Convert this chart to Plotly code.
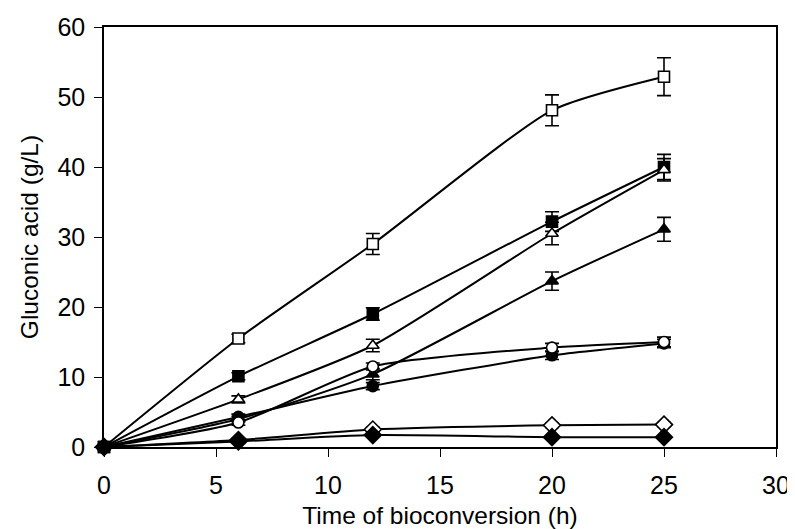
import plotly.graph_objects as go

time_h = [0, 6, 12, 20, 25]

open_square = [0, 15.5, 29.0, 48.1, 52.9]
open_square_err = [0.3, 0.6, 1.5, 2.2, 2.7]

filled_square = [0, 10.1, 19.0, 32.2, 40.0]
filled_square_err = [0.3, 0.5, 0.9, 1.4, 1.8]

open_triangle = [0, 6.8, 14.5, 30.5, 39.6]
open_triangle_err = [0.3, 0.5, 0.9, 1.6, 1.6]

filled_triangle = [0, 4.0, 10.4, 23.7, 31.1]
filled_triangle_err = [0.3, 0.4, 0.8, 1.3, 1.7]

open_circle = [0, 3.5, 11.5, 14.2, 15.0]
open_circle_err = [0.3, 0.4, 0.5, 0.6, 0.7]

filled_circle = [0, 4.3, 8.7, 13.1, 14.8]
filled_circle_err = [0.3, 0.4, 0.5, 0.6, 0.6]

open_diamond = [0, 1.0, 2.5, 3.1, 3.2]
open_diamond_err = [0.2, 0.2, 0.3, 0.3, 0.3]

filled_diamond = [0, 0.8, 1.7, 1.4, 1.4]
filled_diamond_err = [0.2, 0.2, 0.2, 0.2, 0.2]

series = [
    (open_square, open_square_err, "square-open"),
    (filled_square, filled_square_err, "square"),
    (open_triangle, open_triangle_err, "triangle-up-open"),
    (filled_triangle, filled_triangle_err, "triangle-up"),
    (filled_circle, filled_circle_err, "circle"),
    (open_circle, open_circle_err, "circle-open"),
    (open_diamond, open_diamond_err, "diamond-open"),
    (filled_diamond, filled_diamond_err, "diamond"),
]

fig = go.Figure()
for vals, errs, sym in series:
    filled = not sym.endswith("-open")
    base = sym.replace("-open", "")
    size = 11 if base != "diamond" else 13
    fig.add_trace(go.Scatter(
        x=time_h, y=vals,
        mode="lines+markers",
        line=dict(color="black", width=2, shape="spline", smoothing=0.6),
        marker=dict(symbol=base, size=size,
                    color="black" if filled else "white",
                    line=dict(color="black", width=1.6)),
        error_y=dict(type="data", array=errs, visible=True,
                     color="black", thickness=1.6, width=7),
        showlegend=False,
        cliponaxis=False,
    ))

font = "Liberation Sans, Arial, sans-serif"
# page body has an 8px default margin; figure sized so the plot lands where the reference's does
fig.update_layout(
    width=787, height=521,
    margin=dict(l=96, r=19, t=19, b=82),
    paper_bgcolor="white", plot_bgcolor="white",
    font=dict(family=font, color="black"),
    xaxis=dict(range=[0, 30], tickvals=[0, 5, 10, 15, 20, 25, 30],
               showgrid=False, zeroline=False, showline=True, linecolor="black",
               linewidth=1.5, mirror=True, ticks="outside", ticklen=8,
               tickcolor="black", tickfont=dict(size=25), automargin=False,
               ticklabelstandoff=7, ticklabeloverflow="allow",
               title=dict(text="Time of bioconversion (h)", font=dict(size=24.5), standoff=17)),
    yaxis=dict(range=[0, 60], tickvals=[0, 10, 20, 30, 40, 50, 60],
               showgrid=False, zeroline=False, showline=True, linecolor="black",
               linewidth=1.5, mirror=True, ticks="outside", ticklen=8,
               tickcolor="black", tickfont=dict(size=25), automargin=False,
               ticklabelstandoff=4,
               title=dict(text="Gluconic acid (g/L)", font=dict(size=24.5), standoff=12)),
)

fig.write_html("out.html")
